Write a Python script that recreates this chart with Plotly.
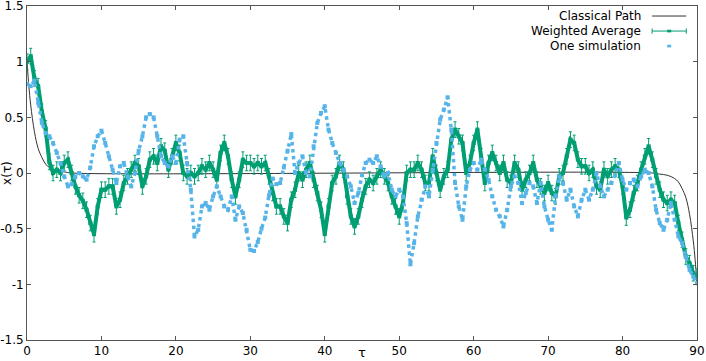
import plotly.graph_objects as go

# imaginary time grid (step 0.5) and values
tau = [i * 0.5 for i in range(181)]

weighted_avg = [
    1.0, 1.05, 0.85, 0.78, 0.55, 0.4, 0.1, 0.0, 0.03, 0.0,
    0.09, 0.12, 0.0, -0.12, -0.2, -0.25, -0.33, -0.45, -0.55, -0.3,
    -0.15, -0.15, -0.12, -0.12, -0.3, -0.24, -0.09, -0.03, 0.03, 0.09,
    0.06, -0.12, -0.03, 0.12, 0.15, 0.09, 0.24, 0.2, 0.03, 0.15,
    0.27, 0.18, 0.0, -0.03, 0.0, -0.03, 0.0, 0.06, 0.03, 0.09,
    0.03, -0.06, 0.18, 0.27, 0.15, -0.06, -0.21, -0.06, 0.12, 0.09,
    0.09, 0.06, 0.09, 0.06, 0.09, -0.03, -0.18, -0.3, -0.3, -0.39,
    -0.45, -0.24, -0.15, 0.0, -0.06, 0.03, 0.09, -0.06, -0.18, -0.33,
    -0.55, -0.3, -0.09, -0.03, 0.09, 0.03, -0.21, -0.39, -0.48, -0.39,
    -0.24, -0.12, -0.06, -0.09, -0.03, 0.03, -0.03, -0.09, -0.21, -0.3,
    -0.39, -0.27, 0.0, 0.03, 0.03, 0.09, 0.03, -0.09, -0.09, 0.15,
    0.0, -0.15, -0.03, 0.03, 0.3, 0.39, 0.33, 0.27, 0.0, 0.09,
    0.27, 0.39, 0.15, -0.09, 0.09, 0.18, 0.09, 0.0, 0.09, -0.06,
    -0.09, 0.09, 0.03, -0.15, -0.06, 0.0, 0.09, -0.06, -0.12, -0.18,
    -0.09, -0.18, -0.21, -0.03, 0.0, 0.15, 0.3, 0.27, 0.12, 0.06,
    0.06, 0.0, 0.03, -0.12, -0.15, 0.03, -0.03, 0.03, 0.06, 0.03,
    -0.12, -0.4, -0.33, -0.18, -0.09, 0.03, 0.15, 0.24, 0.12, -0.03,
    -0.15, -0.24, -0.27, -0.24, -0.27, -0.45, -0.6, -0.75, -0.81, -0.9,
    -0.93,
]

one_sim = [
    0.8, 0.78, 0.83, 0.63, 0.45, 0.36, 0.33, 0.27, 0.18, 0.09,
    -0.03, -0.12, -0.1, -0.03, 0.0, -0.03, -0.06, 0.05, 0.24, 0.33,
    0.38, 0.27, 0.15, 0.03, -0.09, 0.06, 0.09, -0.03, -0.12, 0.0,
    0.2, 0.33, 0.5, 0.53, 0.5, 0.33, 0.15, 0.09, 0.06, 0.15,
    0.09, 0.3, 0.33, 0.09, -0.15, -0.57, -0.51, -0.3, -0.27, -0.33,
    -0.21, -0.12, -0.21, -0.3, -0.33, -0.21, -0.42, -0.3, -0.36, -0.51,
    -0.69, -0.7, -0.62, -0.5, -0.4, -0.2, -0.05, -0.1, -0.09, 0.05,
    0.2, 0.35, 0.0, 0.09, 0.15, 0.0, -0.03, 0.24, 0.45, 0.54,
    0.6, 0.39, 0.27, 0.18, 0.09, 0.03, -0.03, -0.12, -0.27, -0.18,
    -0.02, 0.09, 0.12, 0.09, 0.15, 0.06, -0.03, 0.0, -0.15, -0.21,
    -0.15, -0.21, -0.45, -0.82, -0.63, -0.39, -0.24, -0.12, -0.21, 0.03,
    0.27, 0.48, 0.57, 0.68, 0.39, -0.09, -0.3, -0.42, -0.12, 0.03,
    0.09, 0.03, 0.12, 0.03, -0.06, -0.21, -0.33, -0.39, -0.48, -0.33,
    -0.12, -0.03, -0.09, -0.27, -0.18, -0.09, -0.12, -0.27, -0.09, -0.3,
    -0.42, -0.51, -0.21, -0.03, -0.09, -0.24, -0.15, -0.3, -0.39, -0.24,
    -0.15, -0.24, -0.15, 0.0, -0.12, -0.21, -0.15, -0.09, -0.02, 0.09,
    -0.06, -0.15, -0.09, -0.06, -0.12, -0.03, 0.03, 0.0, -0.12, -0.33,
    -0.45, -0.51, -0.42, -0.27, -0.42, -0.57, -0.63, -0.75, -0.87, -0.93,
    -0.99,
]

# classical path, read at a few points
classical_tau = [0, 0.25, 0.5, 1, 1.5, 2, 2.5, 3, 4, 5, 6,
                 84, 85, 86, 87, 87.5, 88, 88.5, 89, 89.5, 89.75, 90]
classical_x = [1.0, 0.78, 0.61, 0.37, 0.22, 0.14, 0.08, 0.05, 0.02, 0.01, 0.0,
               0.0, -0.01, -0.02, -0.05, -0.08, -0.14, -0.22, -0.37, -0.61, -0.78, -1.0]

y_ticks = [-1.5, -1, -0.5, 0, 0.5, 1, 1.5]
y_labels = ['-1.5', '-1', '-0.5', '0', '0.5', '1', '1.5']
x_ticks = [0, 10, 20, 30, 40, 50, 60, 70, 80, 90]

GREEN = '#009e73'
BLUE = '#56b4e9'
DARK = '#333333'

fig = go.Figure()

fig.add_trace(go.Scatter(
    x=classical_tau, y=classical_x,
    mode='lines', name='Classical Path',
    line=dict(color=DARK, width=1, shape='spline'),
))

fig.add_trace(go.Scatter(
    x=tau, y=weighted_avg,
    mode='lines+markers', name='Weighted Average',
    line=dict(color=GREEN, width=4),
    marker=dict(color=GREEN, size=4, symbol='square'),
    error_y=dict(type='constant', value=0.07, color=GREEN, thickness=1, width=1.5),
))

fig.add_trace(go.Scatter(
    x=tau, y=one_sim,
    mode='lines+markers', name='One simulation',
    line=dict(color=BLUE, width=3.5, dash='dot'),
    marker=dict(color=BLUE, size=4, symbol='square'),
))

axis_style = dict(
    showline=True, linecolor='#555555', linewidth=1, mirror='allticks',
    ticks='inside', ticklen=4, tickcolor='#555555',
    showgrid=False, zeroline=False, automargin=False,
    ticklabeloverflow='allow',
    tickfont=dict(family='DejaVu Sans', size=12, color='black'),
)

fig.update_xaxes(range=[0, 90], tickvals=x_ticks, **axis_style)
fig.update_yaxes(range=[-1.5, 1.5], tickvals=y_ticks, ticktext=y_labels, **axis_style)

# gnuplot-style key: text right-aligned, sample to its right
key_rows = [0.970, 0.925, 0.880]
key_names = ['Classical Path', 'Weighted Average', 'One simulation']
annotations = [
    dict(text=name, xref='paper', yref='paper', x=0.919, y=ky,
         xanchor='right', yanchor='middle', showarrow=False,
         font=dict(size=12))
    for name, ky in zip(key_names, key_rows)
]
annotations += [
    dict(text='τ', xref='paper', yref='paper', x=0.5, y=-0.036,
         xanchor='center', yanchor='middle', showarrow=False,
         font=dict(size=13)),
    dict(text='x(τ)', xref='paper', yref='paper', x=-0.03, y=0.5,
         xanchor='center', yanchor='middle', textangle=-90,
         showarrow=False, font=dict(size=12)),
]

shapes = [
    dict(type='line', xref='paper', yref='paper', x0=0.933, x1=0.984,
         y0=key_rows[0], y1=key_rows[0], line=dict(color=DARK, width=1)),
    dict(type='line', xref='paper', yref='paper', x0=0.933, x1=0.984,
         y0=key_rows[1], y1=key_rows[1], line=dict(color=GREEN, width=1)),
    dict(type='line', xref='paper', yref='paper', x0=0.933, x1=0.933,
         y0=key_rows[1] - 0.008, y1=key_rows[1] + 0.008, line=dict(color=GREEN, width=1)),
    dict(type='line', xref='paper', yref='paper', x0=0.984, x1=0.984,
         y0=key_rows[1] - 0.008, y1=key_rows[1] + 0.008, line=dict(color=GREEN, width=1)),
    dict(type='rect', xref='paper', yref='paper', x0=0.9555, x1=0.9615,
         y0=key_rows[1] - 0.004, y1=key_rows[1] + 0.004,
         fillcolor=GREEN, line=dict(width=0)),
    dict(type='rect', xref='paper', yref='paper', x0=0.9555, x1=0.9615,
         y0=key_rows[2] - 0.004, y1=key_rows[2] + 0.004,
         fillcolor=BLUE, line=dict(width=0)),
]

fig.update_layout(
    width=706, height=361,
    margin=dict(l=27, r=9, t=6, b=21),
    paper_bgcolor='white', plot_bgcolor='white',
    font=dict(family='DejaVu Sans', size=12, color='black'),
    showlegend=False,
    annotations=annotations,
    shapes=shapes,
)

# drop the default 8px page margin so the figure sits at the window corner
fig.write_html("out.html", config={'displayModeBar': False},
               post_script="document.body.style.margin='0';")
